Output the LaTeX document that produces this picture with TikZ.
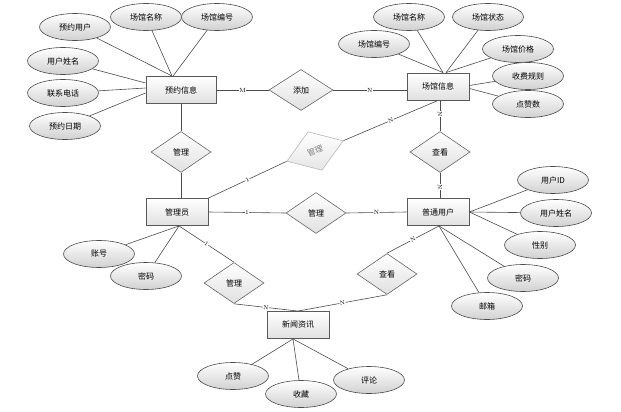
\documentclass[tikz,border=0pt]{standalone}
\usepackage{fontspec}
\newfontfamily\cjk{Noto Sans CJK SC}
\usetikzlibrary{shapes.geometric,calc}
\begin{document}
\begin{tikzpicture}[x=1pt,y=-1pt,
  every node/.style={font=\cjk\fontsize{8}{9}\selectfont, inner sep=1pt},
  ent/.style={rectangle, draw=black!65, line width=0.9pt, top color=white, bottom color=black!12, minimum width=62pt, minimum height=27pt},
  attr/.style={ellipse, draw=black!70, line width=0.6pt, top color=white, bottom color=black!18, minimum width=71pt, minimum height=27pt},
  rel/.style={diamond, draw=black!60, line width=0.6pt, top color=white, bottom color=black!12, minimum width=60pt, minimum height=41pt, inner sep=0pt},
  ghost/.style={rel, draw=black!28, bottom color=black!10, text=black!50},
  ln/.style={draw=black!70, line width=0.6pt},
  card/.style={font=\fontsize{6}{6}\selectfont, fill=white, inner sep=0.4pt, sloped, pos=0.5}
]
\useasboundingbox (0,0) rectangle (621,412);

% entities
\node[ent, minimum width=70pt] (yy) at (181,90) {预约信息};
\node[ent] (cg) at (438,86.5) {场馆信息};
\node[ent] (gly) at (177,212) {管理员};
\node[ent] (pt) at (438,212) {普通用户};
\node[ent] (xw) at (298,325) {新闻资讯};

% relationships
\node[rel, minimum width=64pt] (tj) at (301,90) {添加};
\node[rel] (gl1) at (181,152) {管理};
\node[ghost, rotate=20] (gl2) at (315,151) {管理};
\node[rel] (ck1) at (440,152) {查看};
\node[rel] (gl3) at (316,213) {管理};
\node[rel] (gl4) at (234,283) {管理};
\node[rel] (ck2) at (387,274) {查看};

% attributes
\node[attr] (a1) at (75,27) {预约用户};
\node[attr] (a2) at (146,17) {场馆名称};
\node[attr] (a3) at (217,17) {场馆编号};
\node[attr] (a4) at (63,61) {用户姓名};
\node[attr] (a5) at (63,93) {联系电话};
\node[attr] (a6) at (65,126) {预约日期};
\node[attr] (b1) at (409,17) {场馆名称};
\node[attr] (b2) at (488,17) {场馆状态};
\node[attr] (b3) at (374,44) {场馆编号};
\node[attr] (b4) at (518,49) {场馆价格};
\node[attr] (b5) at (528,76) {收费规则};
\node[attr] (b6) at (528,104) {点赞数};
\node[attr] (c1) at (553,180) {用户ID};
\node[attr] (c2) at (556,213) {用户姓名};
\node[attr] (c3) at (540,245) {性别};
\node[attr] (c4) at (523,278) {密码};
\node[attr] (c5) at (487,306) {邮箱};
\node[attr] (d1) at (99,254) {账号};
\node[attr] (d2) at (146,276) {密码};
\node[attr] (e1) at (233,376) {点赞};
\node[attr] (e2) at (301,394) {收藏};
\node[attr] (e3) at (369,380) {评论};

% attribute connectors
\draw[ln] (a1) -- ([xshift=-9pt]yy.north);
\draw[ln] (a2) -- ([xshift=-9pt]yy.north);
\draw[ln] (a3) -- ([xshift=-8pt]yy.north);
\draw[ln] (a4) -- ([yshift=7pt]yy.west);
\draw[ln] (a5) -- ([yshift=2pt]yy.west);
\draw[ln] (a6) -- ([yshift=-3pt]yy.west);
\draw[ln] (b1) -- ([xshift=5pt]cg.north);
\draw[ln] (b3) -- ([xshift=5pt]cg.north);
\draw[ln] (b2) -- ([xshift=8pt]cg.north);
\draw[ln] (b4) -- ([xshift=8pt]cg.north);
\draw[ln] (b5) -- ([yshift=1pt]cg.east);
\draw[ln] (b6) -- ([yshift=-2pt]cg.east);
\draw[ln] (c1) -- (pt.east);
\draw[ln] (c2) -- (pt.east);
\draw[ln] (c3) -- (pt.east);
\draw[ln] (c4) -- ([xshift=1pt]pt.south);
\draw[ln] (c5) -- ([xshift=1pt]pt.south);
\draw[ln] (d1) -- ([xshift=2pt]gly.south);
\draw[ln] (d2) -- ([xshift=2pt]gly.south);
\draw[ln] (e1) -- ([xshift=-5pt]xw.south);
\draw[ln] (e2) -- ([xshift=-5pt]xw.south);
\draw[ln] (e3) -- ([xshift=-5pt]xw.south);

% relationship connectors
\draw[ln] (yy.east) -- node[card] {M} (tj.west);
\draw[ln] (tj.east) -- node[card] {N} (tj.east -| cg.west);
\draw[ln] (yy.south) -- (gl1.north);
\draw[ln] (gl1.south) -- (gl1.south |- gly.north);
\draw[ln] (gly.north east) -- node[card] {1} (gl2.west);
\draw[ln] (gl2.east) -- node[card] {N} (cg.south);
\draw[ln] (ck1.north |- cg.south) -- node[card, pos=0.45] {N} (ck1.north);
\draw[ln] (ck1.south) -- node[card, pos=0.55] {N} (ck1.south |- pt.north);
\draw[ln] (gly.east) -- node[card] {1} (gl3.west);
\draw[ln] (gl3.east) -- node[card] {N} (pt.west);
\draw[ln] ([xshift=2pt]gly.south) -- node[card] {1} (gl4.north);
\draw[ln] (gl4.south) -- node[card] {N} (xw.north);
\draw[ln] ([xshift=1pt]pt.south) -- node[card] {N} (ck2.north);
\draw[ln] (ck2.south) -- node[card] {N} (xw.north);
\end{tikzpicture}
\end{document}
